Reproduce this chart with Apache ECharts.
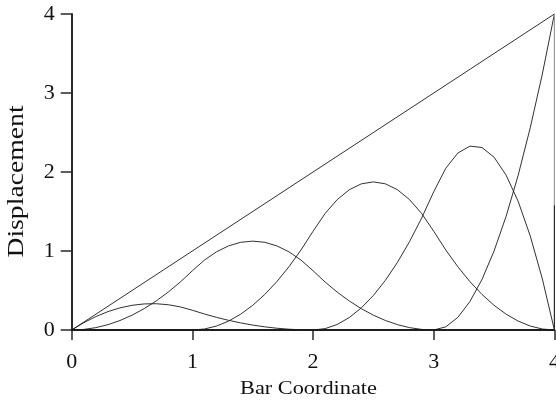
<!DOCTYPE html>
<html>
<head>
<meta charset="utf-8">
<script src="https://cdn.jsdelivr.net/npm/echarts@6/dist/echarts.min.js"></script>
<style>
  html, body { margin: 0; padding: 0; background: #ffffff; }
  #chart { width: 556px; height: 403px; }
</style>
</head>
<body>
<div id="chart"></div>
<script>
// Bar coordinate samples (0 to 4, step 0.1)
const barX = [0, 0.1, 0.2, 0.3, 0.4, 0.5, 0.6, 0.7, 0.8, 0.9,
              1.0, 1.1, 1.2, 1.3, 1.4, 1.5, 1.6, 1.7, 1.8, 1.9,
              2.0, 2.1, 2.2, 2.3, 2.4, 2.5, 2.6, 2.7, 2.8, 2.9,
              3.0, 3.1, 3.2, 3.3, 3.4, 3.5, 3.6, 3.7, 3.8, 3.9, 4.0];

// Displacement contributions of the individual shape functions
const mode1 = [0, 0.0925, 0.17, 0.2325, 0.28, 0.3125, 0.33, 0.3325, 0.32, 0.2925,
               0.25, 0.2025, 0.16, 0.1225, 0.09, 0.0625, 0.04, 0.0225, 0.01, 0.0025,
               0, 0, 0, 0, 0, 0, 0, 0, 0, 0,
               0, 0, 0, 0, 0, 0, 0, 0, 0, 0, 0];
const mode2 = [0, 0.0075, 0.03, 0.0675, 0.12, 0.1875, 0.27, 0.3675, 0.48, 0.6075,
               0.75, 0.885, 0.99, 1.065, 1.11, 1.125, 1.11, 1.065, 0.99, 0.885,
               0.75, 0.6075, 0.48, 0.3675, 0.27, 0.1875, 0.12, 0.0675, 0.03, 0.0075,
               0, 0, 0, 0, 0, 0, 0, 0, 0, 0, 0];
const mode3 = [0, 0, 0, 0, 0, 0, 0, 0, 0, 0,
               0, 0.0125, 0.05, 0.1125, 0.2, 0.3125, 0.45, 0.6125, 0.8, 1.0125,
               1.25, 1.475, 1.65, 1.775, 1.85, 1.875, 1.85, 1.775, 1.65, 1.475,
               1.25, 1.0125, 0.8, 0.6125, 0.45, 0.3125, 0.2, 0.1125, 0.05, 0.0125, 0];
const mode4 = [0, 0, 0, 0, 0, 0, 0, 0, 0, 0,
               0, 0, 0, 0, 0, 0, 0, 0, 0, 0,
               0, 0.0175, 0.07, 0.1575, 0.28, 0.4375, 0.63, 0.8575, 1.12, 1.4175,
               1.75, 2.0475, 2.24, 2.3275, 2.31, 2.1875, 1.96, 1.6275, 1.19, 0.6475, 0];
const mode5 = [0, 0, 0, 0, 0, 0, 0, 0, 0, 0,
               0, 0, 0, 0, 0, 0, 0, 0, 0, 0,
               0, 0, 0, 0, 0, 0, 0, 0, 0, 0,
               0, 0.04, 0.16, 0.36, 0.64, 1.0, 1.44, 1.96, 2.56, 3.24, 4.0];

// Total displacement (linear)
const totalX = [0, 4];
const totalY = [0, 4];

// Vertical segments at the bar end
const endUpperX = [4, 4];
const endUpperY = [4, 1.58];
const endLowerX = [4, 4];
const endLowerY = [1.58, 0];

// Axis ticks
const xTicks = [0, 1, 2, 3, 4];
const yTicks = [0, 1, 2, 3, 4];

const pairs = (xa, ya) => xa.map((x, i) => [x, ya[i]]);

const curveStyle = { color: '#1a1a1a', width: 0.9 };
const curve = (name, xa, ya, style) => ({
  name: name,
  type: 'line',
  data: pairs(xa, ya),
  showSymbol: false,
  symbol: 'none',
  smooth: false,
  clip: false,
  lineStyle: style || curveStyle,
  silent: true
});

const serif = "'Liberation Serif', serif";

const chart = echarts.init(document.getElementById('chart'), null, { renderer: 'canvas' });
chart.setOption({
  animation: false,
  backgroundColor: '#ffffff',
  grid: { left: 71.7, right: 1.6, top: 14, bottom: 73, containLabel: false, outerBoundsMode: 'none' },
  xAxis: {
    type: 'value',
    min: xTicks[0],
    max: xTicks[xTicks.length - 1],
    interval: 1,
    axisLine: { show: true, onZero: false, lineStyle: { color: '#2a2a2a', width: 2 } },
    axisTick: { show: true, inside: false, length: 10, lineStyle: { color: '#2a2a2a', width: 1.5 } },
    axisLabel: { fontFamily: serif, fontSize: 22, color: '#111', margin: 21, hideOverlap: false },
    splitLine: { show: false }
  },
  yAxis: {
    type: 'value',
    min: yTicks[0],
    max: yTicks[yTicks.length - 1],
    interval: 1,
    axisLine: { show: true, onZero: false, lineStyle: { color: '#2a2a2a', width: 2 } },
    axisTick: { show: true, inside: false, length: 11, lineStyle: { color: '#2a2a2a', width: 1.5 } },
    axisLabel: { fontFamily: serif, fontSize: 22, color: '#111', margin: 17 },
    splitLine: { show: false }
  },
  graphic: [
    {
      type: 'text',
      x: 308.5,
      y: 389.5,
      scaleX: 1.2,
      style: {
        text: 'Bar Coordinate',
        fontFamily: serif,
        fontSize: 18.6,
        fill: '#111',
        align: 'center',
        verticalAlign: 'middle'
      }
    },
    {
      type: 'text',
      x: 17.5,
      y: 181.5,
      rotation: Math.PI / 2,
      scaleX: 1.22,
      style: {
        text: 'Displacement',
        fontFamily: serif,
        fontSize: 22.7,
        fill: '#111',
        align: 'center',
        verticalAlign: 'middle'
      }
    }
  ],
  series: [
    curve('total', totalX, totalY),
    curve('mode1', barX, mode1),
    curve('mode2', barX, mode2),
    curve('mode3', barX, mode3),
    curve('mode4', barX, mode4),
    curve('mode5', barX, mode5),
    curve('endUpper', endUpperX, endUpperY, { color: '#9a9a9a', width: 1.2 }),
    curve('endLower', endLowerX, endLowerY, { color: '#2a2a2a', width: 1.2 })
  ]
});
</script>
</body>
</html>
